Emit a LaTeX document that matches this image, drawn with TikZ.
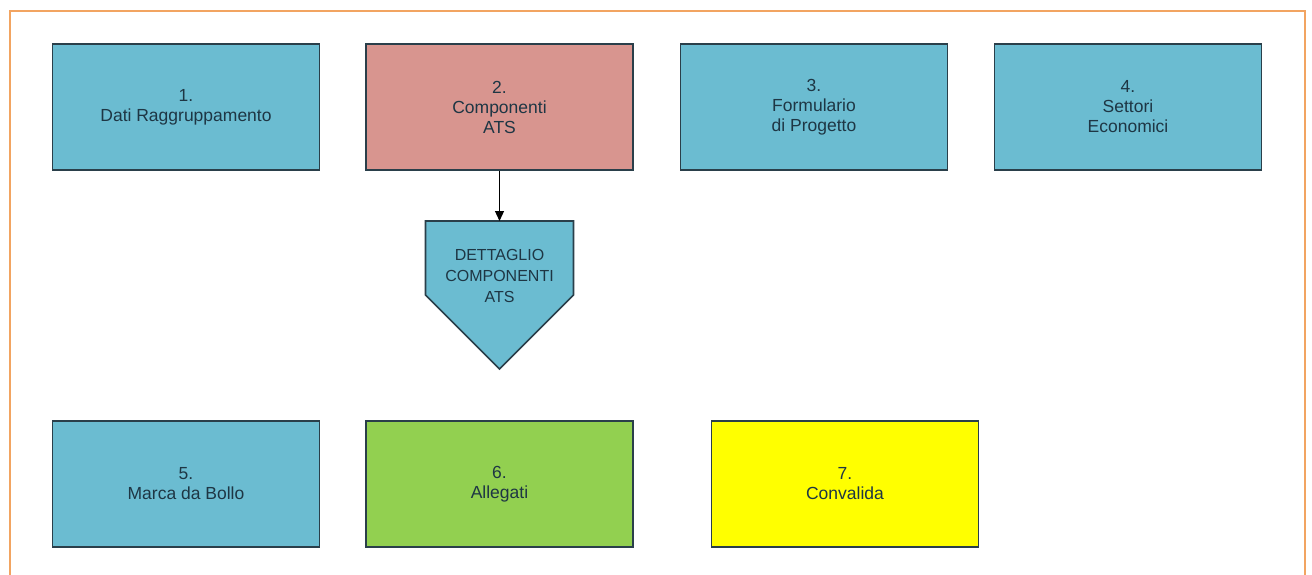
\documentclass[tikz,border=0pt]{standalone}
\usepackage{fontspec}
\setmainfont{Liberation Sans}
\usetikzlibrary{arrows.meta}
\definecolor{bluebox}{HTML}{6BBCD1}
\definecolor{redbox}{HTML}{D8958F}
\definecolor{greenbox}{HTML}{92D050}
\definecolor{yellowbox}{HTML}{FFFF00}
\definecolor{edgec}{HTML}{2A3F4A}
\definecolor{txtc}{HTML}{1E3644}
\definecolor{framec}{HTML}{F2A461}
\tikzset{
  box/.style={draw=edgec, line width=1.6pt, minimum width=267pt, minimum height=126pt,
    align=center, text=txtc, font=\fontsize{17.5}{20}\selectfont, inner sep=0pt},
  pentbox/.style={draw=edgec, line width=1.6pt, fill=bluebox},
  penttext/.style={align=center, text=txtc, font=\fontsize{16}{21}\selectfont, inner sep=0pt},
  conn/.style={line width=1.3pt, -{Triangle[length=10pt,width=9pt]}},
  frameline/.style={draw=framec, line width=1.8pt}
}
\begin{document}
\begin{tikzpicture}[x=1pt,y=-1pt]
\useasboundingbox (0,0) rectangle (1312,575);
\fill[white] (0,0) rectangle (1312,575);
\draw[frameline] (10,576) -- (10,11) -- (1305,11) -- (1305,576);

\node[box, fill=bluebox] (b1) at (186,107) {1.\\Dati Raggruppamento};
\node[box, fill=redbox] (b2) at (499.5,107) {2.\\Componenti\\ATS};
\node[box, fill=bluebox] (b3) at (814,107) {3.\\Formulario\\di Progetto};
\node[box, fill=bluebox] (b4) at (1128,107) {4.\\Settori\\Economici};

\node[box, fill=bluebox] (b5) at (186,484) {5.\\Marca da Bollo};
\node[box, fill=greenbox] (b6) at (499.5,484) {6.\\Allegati};
\node[box, fill=yellowbox] (b7) at (845,484) {7.\\Convalida};

\coordinate (ptop) at (499.5,221);
\draw[pentbox] (425.5,221) -- (573.5,221) -- (573.5,295) -- (499.5,369) -- (425.5,295) -- cycle;
\node[penttext] (pent) at (499.5,276) {DETTAGLIO\\COMPONENTI\\ATS};

\draw[conn] (b2.south) -- (ptop);
\end{tikzpicture}
\end{document}
